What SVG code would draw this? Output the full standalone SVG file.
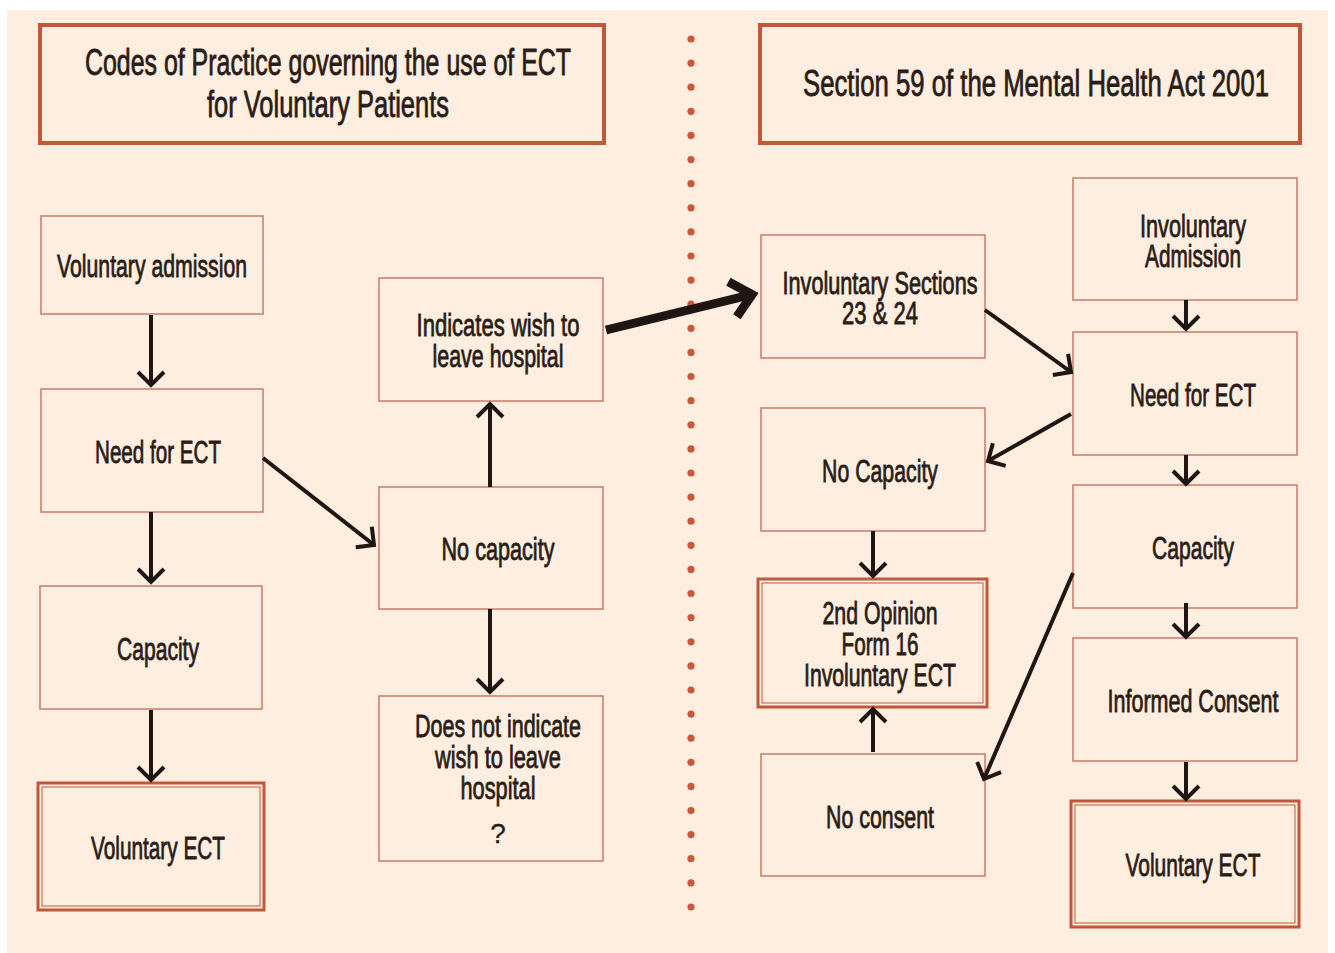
<svg xmlns="http://www.w3.org/2000/svg" width="1335" height="953" viewBox="0 0 1335 953">
<style>
.bg{fill:#fdeee0}
.box{fill:#fdeee0;stroke:#c87a64;stroke-width:1.5}
.title{fill:#fdeee0;stroke:#c0583a;stroke-width:4}
.dout{fill:#fdeee0;stroke:#c0583a;stroke-width:3}
.din{fill:none;stroke:#c0583a;stroke-width:1}
text{font-family:"Liberation Sans Narrow","Liberation Sans",Arial,sans-serif;fill:#2a1c16;stroke:#2a1c16;stroke-width:0.8;text-anchor:middle;font-size:31px}
text.t{font-size:36px}
text.q{font-size:28px;stroke-width:0.3}
.con{stroke:#1f1512;stroke-width:4;fill:none}
.big{stroke:#1f1512;stroke-width:9;fill:none}
.dot{fill:#c9583a}
</style>
<defs>
<marker id="ah" markerUnits="userSpaceOnUse" viewBox="-2 -2 20 32" refX="13" refY="13" markerWidth="20" markerHeight="32" orient="auto">
<path d="M0,0 L13,13 L0,26" fill="none" stroke="#1f1512" stroke-width="4"/>
</marker>
<marker id="ahb" markerUnits="userSpaceOnUse" viewBox="-6 -6 36 48" refX="22" refY="18" markerWidth="36" markerHeight="48" orient="auto">
<path d="M0,0 L20,18 L0,36" fill="none" stroke="#1f1512" stroke-width="9"/>
</marker>
</defs>
<rect x="0" y="0" width="1335" height="953" fill="#ffffff"/>
<rect class="bg" x="7" y="10" width="1321" height="943"/>
<g id="divider">
<circle class="dot" cx="691" cy="39" r="3.6"/><circle class="dot" cx="691" cy="63.1" r="3.6"/><circle class="dot" cx="691" cy="87.2" r="3.6"/><circle class="dot" cx="691" cy="111.3" r="3.6"/><circle class="dot" cx="691" cy="135.4" r="3.6"/><circle class="dot" cx="691" cy="159.6" r="3.6"/><circle class="dot" cx="691" cy="183.7" r="3.6"/><circle class="dot" cx="691" cy="207.8" r="3.6"/><circle class="dot" cx="691" cy="231.9" r="3.6"/><circle class="dot" cx="691" cy="256" r="3.6"/><circle class="dot" cx="691" cy="280.1" r="3.6"/><circle class="dot" cx="691" cy="304.2" r="3.6"/><circle class="dot" cx="691" cy="328.3" r="3.6"/><circle class="dot" cx="691" cy="352.4" r="3.6"/><circle class="dot" cx="691" cy="376.5" r="3.6"/><circle class="dot" cx="691" cy="400.7" r="3.6"/><circle class="dot" cx="691" cy="424.8" r="3.6"/><circle class="dot" cx="691" cy="448.9" r="3.6"/><circle class="dot" cx="691" cy="473" r="3.6"/><circle class="dot" cx="691" cy="497.1" r="3.6"/><circle class="dot" cx="691" cy="521.2" r="3.6"/><circle class="dot" cx="691" cy="545.3" r="3.6"/><circle class="dot" cx="691" cy="569.4" r="3.6"/><circle class="dot" cx="691" cy="593.5" r="3.6"/><circle class="dot" cx="691" cy="617.6" r="3.6"/><circle class="dot" cx="691" cy="641.8" r="3.6"/><circle class="dot" cx="691" cy="665.9" r="3.6"/><circle class="dot" cx="691" cy="690" r="3.6"/><circle class="dot" cx="691" cy="714.1" r="3.6"/><circle class="dot" cx="691" cy="738.2" r="3.6"/><circle class="dot" cx="691" cy="762.3" r="3.6"/><circle class="dot" cx="691" cy="786.4" r="3.6"/><circle class="dot" cx="691" cy="810.5" r="3.6"/><circle class="dot" cx="691" cy="834.6" r="3.6"/><circle class="dot" cx="691" cy="858.7" r="3.6"/><circle class="dot" cx="691" cy="882.9" r="3.6"/><circle class="dot" cx="691" cy="907" r="3.6"/>
</g>
<g id="title-left"><rect class="title" x="40" y="25" width="564" height="118"/>
<text class="t" x="328" y="75" textLength="486" lengthAdjust="spacingAndGlyphs">Codes of Practice governing the use of ECT</text>
<text class="t" x="328" y="117" textLength="242" lengthAdjust="spacingAndGlyphs">for Voluntary Patients</text></g>
<g id="title-right"><rect class="title" x="760" y="25" width="540" height="118"/>
<text class="t" x="1036" y="96" textLength="466" lengthAdjust="spacingAndGlyphs">Section 59 of the Mental Health Act 2001</text></g>

<g id="voluntary-admission"><rect class="box" x="41" y="216" width="222" height="98"/>
<text x="152" y="277" textLength="190" lengthAdjust="spacingAndGlyphs">Voluntary admission</text></g>
<g id="need-ect-left"><rect class="box" x="41" y="389" width="222" height="123"/>
<text x="158" y="463" textLength="126" lengthAdjust="spacingAndGlyphs">Need for ECT</text></g>
<g id="capacity-left"><rect class="box" x="40" y="586" width="222" height="123"/>
<text x="158" y="660" textLength="82" lengthAdjust="spacingAndGlyphs">Capacity</text></g>
<g id="voluntary-ect-left"><rect class="dout" x="38" y="783" width="226" height="127"/><rect class="din" x="42" y="787" width="218" height="119"/>
<text x="158" y="859" textLength="134" lengthAdjust="spacingAndGlyphs">Voluntary ECT</text></g>

<g id="indicates-wish"><rect class="box" x="379" y="278" width="224" height="123"/>
<text x="498" y="336" textLength="163" lengthAdjust="spacingAndGlyphs">Indicates wish to</text>
<text x="498" y="367" textLength="131" lengthAdjust="spacingAndGlyphs">leave hospital</text></g>
<g id="no-capacity-left"><rect class="box" x="379" y="487" width="224" height="122"/>
<text x="498" y="560" textLength="113" lengthAdjust="spacingAndGlyphs">No capacity</text></g>
<g id="does-not-indicate"><rect class="box" x="379" y="696" width="224" height="165"/>
<text x="498" y="737" textLength="166" lengthAdjust="spacingAndGlyphs">Does not indicate</text>
<text x="498" y="768" textLength="126" lengthAdjust="spacingAndGlyphs">wish to leave</text>
<text x="498" y="799" textLength="75" lengthAdjust="spacingAndGlyphs">hospital</text>
<text class="q" x="498" y="843">?</text></g>

<g id="involuntary-sections"><rect class="box" x="761" y="235" width="224" height="123"/>
<text x="880" y="294" textLength="195" lengthAdjust="spacingAndGlyphs">Involuntary Sections</text>
<text x="880" y="324" textLength="76" lengthAdjust="spacingAndGlyphs">23 &amp; 24</text></g>
<g id="involuntary-admission"><rect class="box" x="1073" y="178" width="224" height="122"/>
<text x="1193" y="237" textLength="106" lengthAdjust="spacingAndGlyphs">Involuntary</text>
<text x="1193" y="267" textLength="96" lengthAdjust="spacingAndGlyphs">Admission</text></g>
<g id="need-ect-right"><rect class="box" x="1073" y="332" width="224" height="123"/>
<text x="1193" y="406" textLength="126" lengthAdjust="spacingAndGlyphs">Need for ECT</text></g>
<g id="no-capacity-right"><rect class="box" x="761" y="408" width="224" height="123"/>
<text x="880" y="482" textLength="116" lengthAdjust="spacingAndGlyphs">No Capacity</text></g>
<g id="capacity-right"><rect class="box" x="1073" y="485" width="224" height="123"/>
<text x="1193" y="559" textLength="82" lengthAdjust="spacingAndGlyphs">Capacity</text></g>
<g id="second-opinion"><rect class="dout" x="758" y="579" width="229" height="128"/><rect class="din" x="762" y="583" width="221" height="120"/>
<text x="880" y="624" textLength="115" lengthAdjust="spacingAndGlyphs">2nd Opinion</text>
<text x="880" y="655" textLength="77" lengthAdjust="spacingAndGlyphs">Form 16</text>
<text x="880" y="686" textLength="152" lengthAdjust="spacingAndGlyphs">Involuntary ECT</text></g>
<g id="informed-consent"><rect class="box" x="1073" y="638" width="224" height="123"/>
<text x="1193" y="712" textLength="171" lengthAdjust="spacingAndGlyphs">Informed Consent</text></g>
<g id="no-consent"><rect class="box" x="761" y="754" width="224" height="122"/>
<text x="880" y="828" textLength="108" lengthAdjust="spacingAndGlyphs">No consent</text></g>
<g id="voluntary-ect-right"><rect class="dout" x="1071" y="801" width="228" height="126"/><rect class="din" x="1075" y="805" width="220" height="118"/>
<text x="1193" y="876" textLength="135" lengthAdjust="spacingAndGlyphs">Voluntary ECT</text></g>

<g id="connectors">
<line class="con" x1="151" y1="315" x2="151" y2="385" marker-end="url(#ah)"/>
<line class="con" x1="151" y1="512" x2="151" y2="582" marker-end="url(#ah)"/>
<line class="con" x1="151" y1="710" x2="151" y2="780" marker-end="url(#ah)"/>
<line class="con" x1="263" y1="458" x2="374" y2="545" marker-end="url(#ah)"/>
<line class="con" x1="490" y1="487" x2="490" y2="404" marker-end="url(#ah)"/>
<line class="con" x1="490" y1="609" x2="490" y2="692" marker-end="url(#ah)"/>
<line class="big" x1="606" y1="330" x2="754" y2="294" marker-end="url(#ahb)"/>
<line class="con" x1="985" y1="310" x2="1071" y2="372" marker-end="url(#ah)"/>
<line class="con" x1="1186" y1="300" x2="1186" y2="329" marker-end="url(#ah)"/>
<line class="con" x1="1071" y1="414" x2="988" y2="461" marker-end="url(#ah)"/>
<line class="con" x1="1186" y1="455" x2="1186" y2="484" marker-end="url(#ah)"/>
<line class="con" x1="873" y1="531" x2="873" y2="576" marker-end="url(#ah)"/>
<line class="con" x1="1186" y1="603" x2="1186" y2="637" marker-end="url(#ah)"/>
<line class="con" x1="1186" y1="762" x2="1186" y2="799" marker-end="url(#ah)"/>
<line class="con" x1="1073" y1="573" x2="984" y2="779" marker-end="url(#ah)"/>
<line class="con" x1="873" y1="752" x2="873" y2="709" marker-end="url(#ah)"/>
</g>
</svg>
